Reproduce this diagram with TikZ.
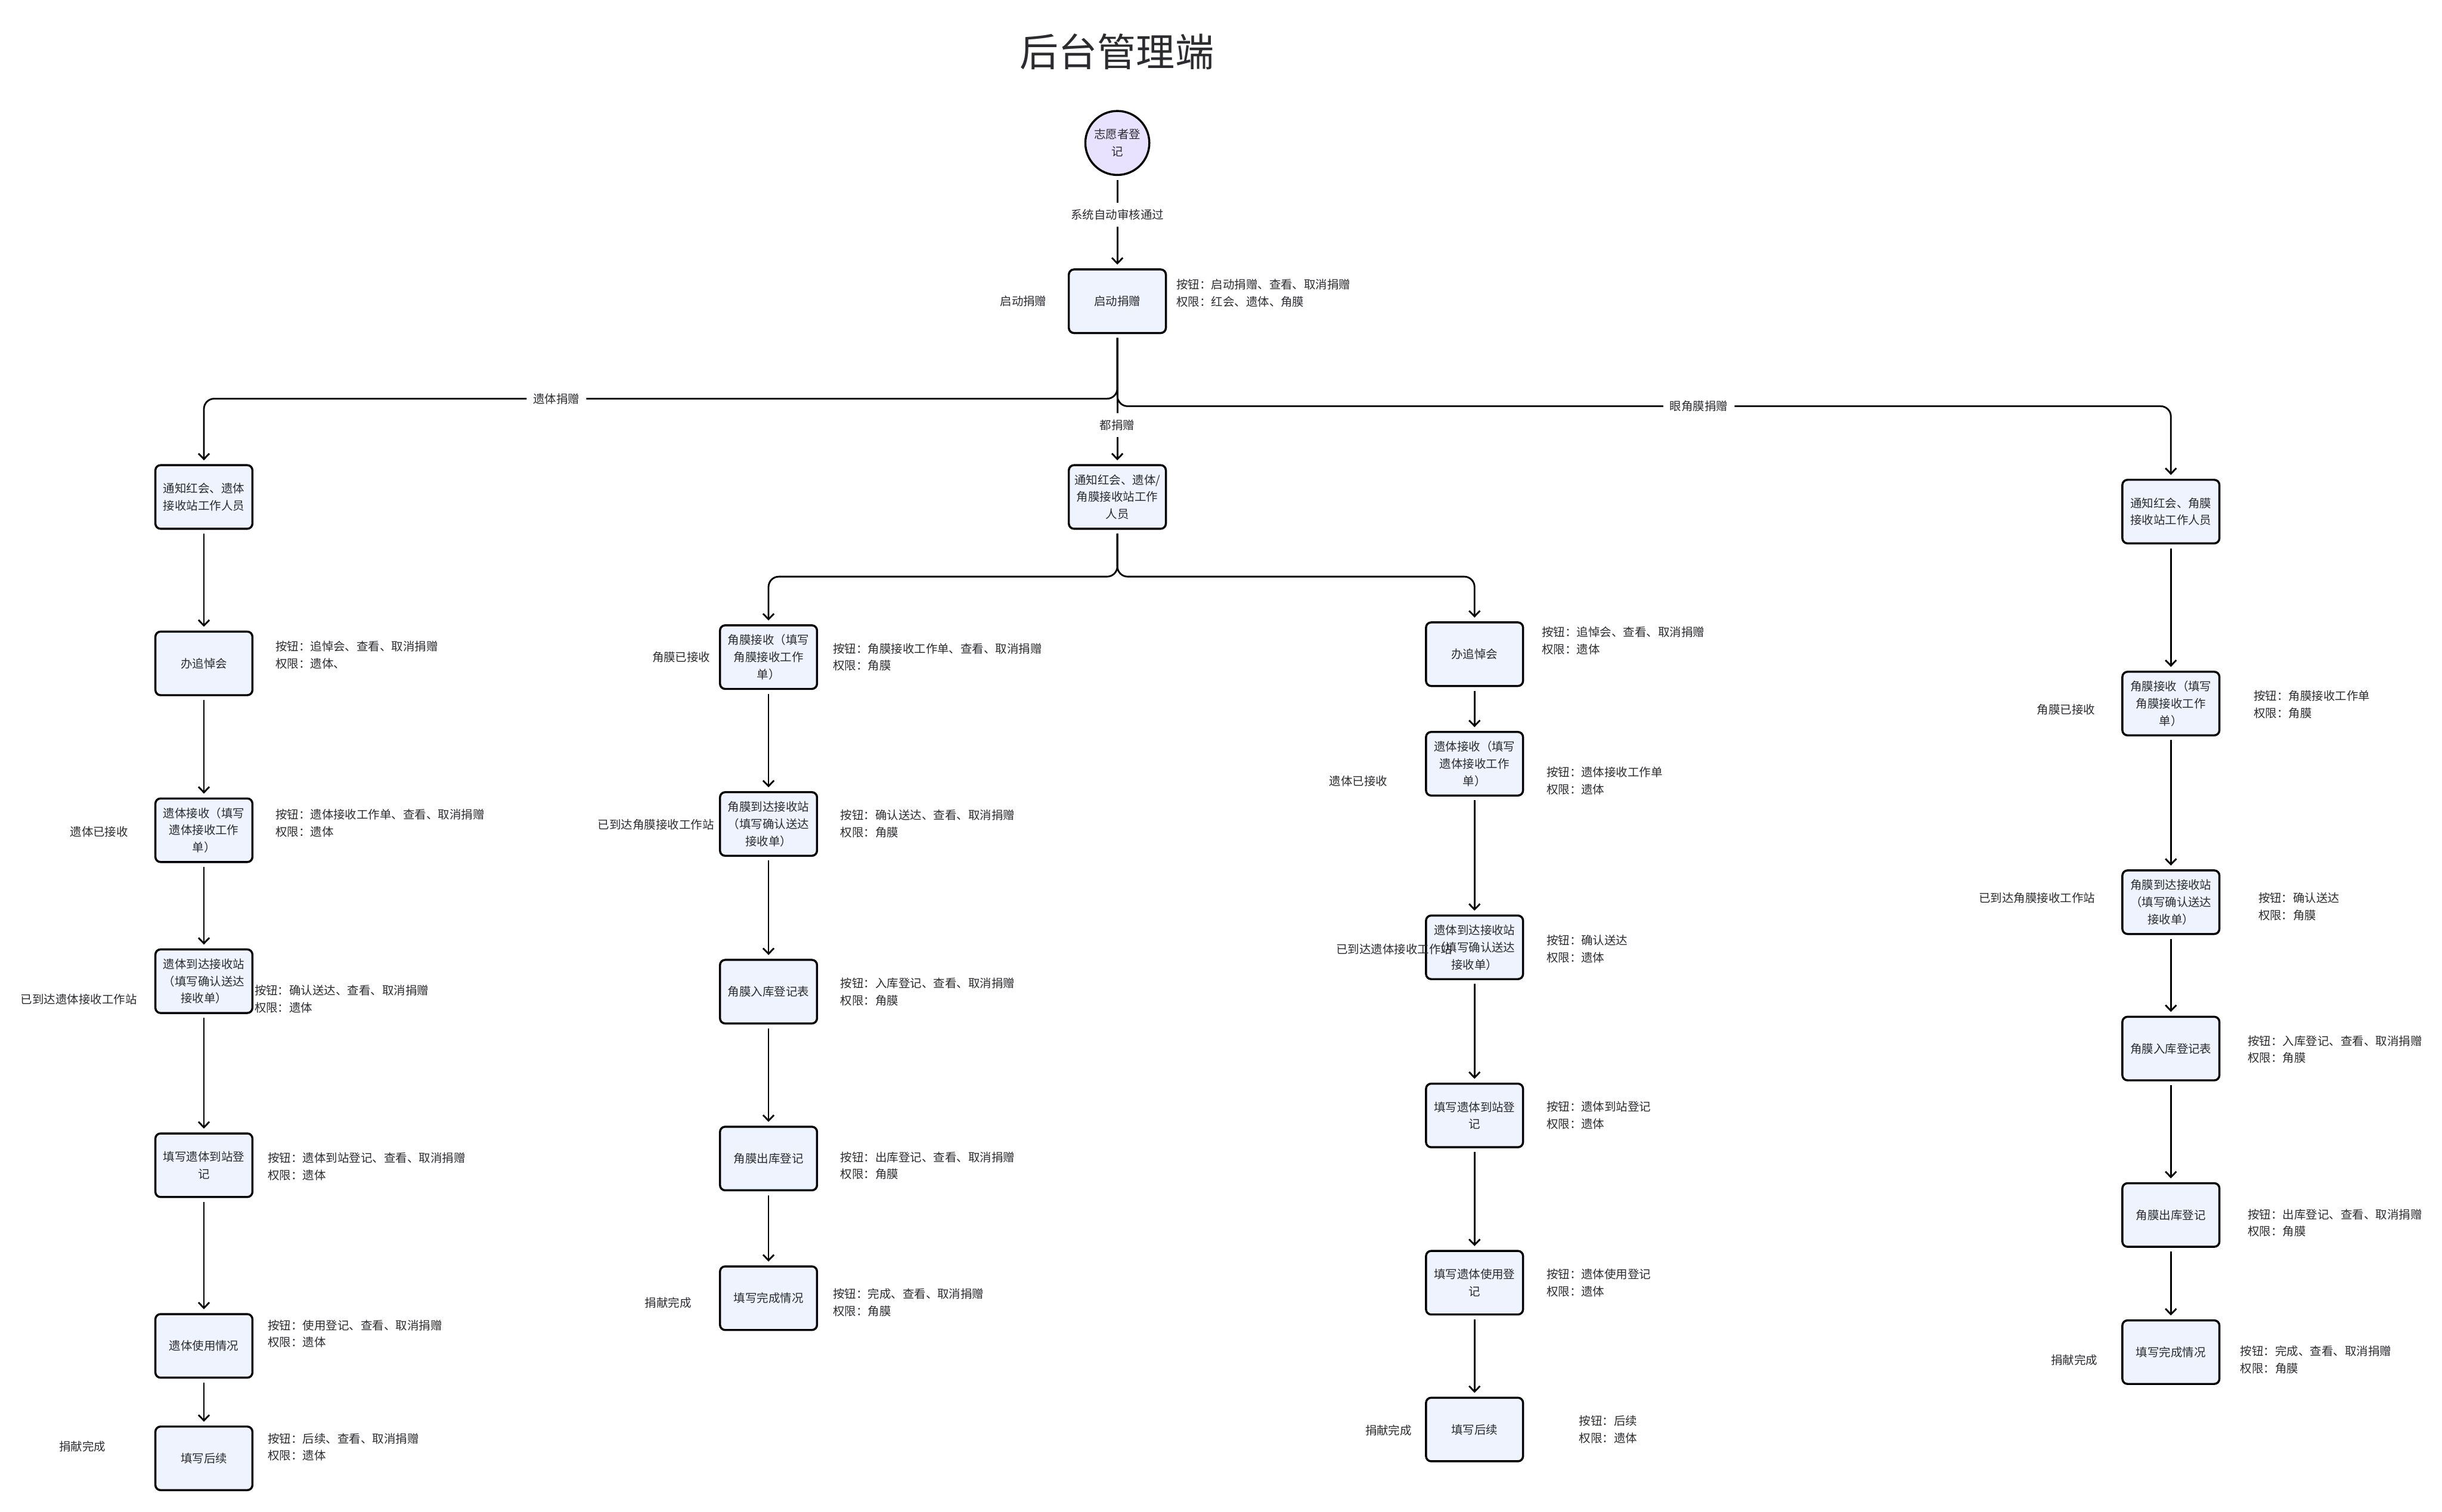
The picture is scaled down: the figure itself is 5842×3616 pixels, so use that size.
\documentclass[tikz,border=0pt]{standalone}
\usepackage{fontspec}
\setmainfont{Noto Sans CJK SC}
\usepackage{xcolor}
\usepackage{tikz}
\usetikzlibrary{positioning,arrows.meta}

\definecolor{boxfill}{HTML}{EEF3FD}
\definecolor{startfill}{HTML}{E8E2FE}
\definecolor{txt}{HTML}{2B2B30}
\newcommand{\nodefont}{\fontsize{7.9pt}{11.7pt}\selectfont}

\begin{document}
\begin{tikzpicture}[
    x=0.01cm, y=-0.01cm,
    font=\nodefont, text=txt,
    step_box/.style={draw=black, line width=1.4pt, rounded corners=3.5pt, fill=boxfill,
        minimum width=2.32cm, minimum height=1.52cm, inner sep=0pt, align=center},
    start_circle/.style={circle, draw=black, line width=1.4pt, fill=startfill,
        minimum size=1.53cm, inner sep=0pt, align=center},
    note/.style={inner sep=0pt, align=left},
    side/.style={inner sep=0pt},
    edge_label/.style={fill=white, inner sep=4.5pt},
    arrow/.style={-{Straight Barb[length=3.8pt, width=7.4pt]}, line width=1.15pt,
        shorten <=2.6pt, shorten >=2.6pt, rounded corners=7pt}
]
\useasboundingbox (0,0) rectangle (5842,3616);

\node (title) at (2672,123) [font=\fontsize{26.4pt}{30pt}\selectfont] {后台管理端};
\node (reg) at (2673,342) [start_circle] {志愿者登\\记};
\node (start) [step_box, below=2.21cm of reg] {启动捐赠};
\node (start_l) [side, left=0.50cm of start] {启动捐赠};
\node (start_n) [note, right=0.22cm of start, yshift=0.19cm] {按钮：启动捐赠、查看、取消捐赠\\权限：红会、遗体、角膜};

\node (mnotify) [step_box, below=3.11cm of start] {通知红会、遗体/\\角膜接收站工作\\人员};
\node (v1) [step_box, left=19.47cm of mnotify] {通知红会、遗体\\接收站工作人员};
\node (c1) [step_box, right=22.82cm of mnotify, yshift=-0.35cm] {通知红会、角膜\\接收站工作人员};

% body donation
\node (v2) [step_box, below=2.41cm of v1] {办追悼会};
\node (v3) [step_box, below=2.42cm of v2] {遗体接收（填写\\遗体接收工作\\单）};
\node (v4) [step_box, below=2.04cm of v3] {遗体到达接收站\\（填写确认送达\\接收单）};
\node (v5) [step_box, below=2.83cm of v4] {填写遗体到站登\\记};
\node (v6) [step_box, below=2.75cm of v5] {遗体使用情况};
\node (v7) [step_box, below=1.12cm of v6] {填写后续};

\node (v3_l) [side, left=0.62cm of v3, yshift=-0.03cm] {遗体已接收};
\node (v4_l) [side, left=0.41cm of v4, yshift=-0.43cm] {已到达遗体接收工作站};
\node (v7_l) [side, left=1.16cm of v7, yshift=0.28cm] {捐献完成};

\node (v2_n) [note, right=0.52cm of v2, yshift=0.20cm] {按钮：追悼会、查看、取消捐赠\\权限：遗体、};
\node (v3_n) [note, right=0.52cm of v3, yshift=0.17cm] {按钮：遗体接收工作单、查看、取消捐赠\\权限：遗体};
\node (v4_n) [note, right=0.02cm of v4, yshift=-0.43cm] {按钮：确认送达、查看、取消捐赠\\权限：遗体};
\node (v5_n) [note, right=0.34cm of v5, yshift=-0.03cm] {按钮：遗体到站登记、查看、取消捐赠\\权限：遗体};
\node (v6_n) [note, right=0.34cm of v6, yshift=0.29cm] {按钮：使用登记、查看、取消捐赠\\权限：遗体};
\node (v7_n) [note, right=0.34cm of v7, yshift=0.27cm] {按钮：后续、查看、取消捐赠\\权限：遗体};

% both: cornea side
\node (k1) [step_box, below=2.26cm of mnotify, xshift=-8.34cm] {角膜接收（填写\\角膜接收工作\\单）};
\node (k2) [step_box, below=2.42cm of k1] {角膜到达接收站\\（填写确认送达\\接收单）};
\node (k3) [step_box, below=2.44cm of k2] {角膜入库登记表};
\node (k4) [step_box, below=2.42cm of k3] {角膜出库登记};
\node (k5) [step_box, below=1.77cm of k4] {填写完成情况};

\node (k1_l) [side, left=0.20cm of k1] {角膜已接收};
\node (k2_l) [side, left=0.11cm of k2, yshift=-0.02cm] {已到达角膜接收工作站};
\node (k5_l) [side, left=0.65cm of k5, yshift=-0.11cm] {捐献完成};

\node (k1_n) [note, right=0.35cm of k1] {按钮：角膜接收工作单、查看、取消捐赠\\权限：角膜};
\node (k2_n) [note, right=0.53cm of k2] {按钮：确认送达、查看、取消捐赠\\权限：角膜};
\node (k3_n) [note, right=0.53cm of k3] {按钮：入库登记、查看、取消捐赠\\权限：角膜};
\node (k4_n) [note, right=0.53cm of k4, yshift=-0.17cm] {按钮：出库登记、查看、取消捐赠\\权限：角膜};
\node (k5_n) [note, right=0.35cm of k5, yshift=-0.10cm] {按钮：完成、查看、取消捐赠\\权限：角膜};

% both: body side
\node (w1) [step_box, below=2.19cm of mnotify, xshift=8.54cm] {办追悼会};
\node (w2) [step_box, below=1.05cm of w1] {遗体接收（填写\\遗体接收工作\\单）};
\node (w3) [step_box, below=2.82cm of w2] {遗体到达接收站\\（填写确认送达\\接收单）};
\node (w4) [step_box, below=2.45cm of w3] {填写遗体到站登\\记};
\node (w5) [step_box, below=2.43cm of w4] {填写遗体使用登\\记};
\node (w6) [step_box, below=1.94cm of w5] {填写后续};

\node (w2_l) [side, left=0.89cm of w2, yshift=-0.42cm] {遗体已接收};
\node (w3_l) [side, left=-0.66cm of w3, yshift=-0.04cm] {已到达遗体接收工作站};
\node (w6_l) [side, left=0.31cm of w6, yshift=-0.02cm] {捐献完成};

\node (w1_n) [note, right=0.42cm of w1, yshift=0.32cm] {按钮：追悼会、查看、取消捐赠\\权限：遗体};
\node (w2_n) [note, right=0.53cm of w2, yshift=-0.41cm] {按钮：遗体接收工作单\\权限：遗体};
\node (w3_n) [note, right=0.53cm of w3, yshift=-0.04cm] {按钮：确认送达\\权限：遗体};
\node (w4_n) [note, right=0.53cm of w4] {按钮：遗体到站登记\\权限：遗体};
\node (w5_n) [note, right=0.53cm of w5] {按钮：遗体使用登记\\权限：遗体};
\node (w6_n) [note, right=1.31cm of w6] {按钮：后续\\权限：遗体};

% cornea donation
\node (c2) [step_box, below=3.02cm of c1] {角膜接收（填写\\角膜接收工作\\单）};
\node (c3) [step_box, below=3.18cm of c2] {角膜到达接收站\\（填写确认送达\\接收单）};
\node (c4) [step_box, below=1.93cm of c3] {角膜入库登记表};
\node (c5) [step_box, below=2.41cm of c4] {角膜出库登记};
\node (c6) [step_box, below=1.71cm of c5] {填写完成情况};

\node (c2_l) [side, left=0.62cm of c2, yshift=-0.14cm] {角膜已接收};
\node (c3_l) [side, left=0.62cm of c3, yshift=0.10cm] {已到达角膜接收工作站};
\node (c6_l) [side, left=0.56cm of c6, yshift=-0.19cm] {捐献完成};

\node (c2_n) [note, right=0.79cm of c2, yshift=-0.02cm] {按钮：角膜接收工作单\\权限：角膜};
\node (c3_n) [note, right=0.90cm of c3, yshift=-0.10cm] {按钮：确认送达\\权限：角膜};
\node (c4_n) [note, right=0.65cm of c4, yshift=-0.02cm] {按钮：入库登记、查看、取消捐赠\\权限：角膜};
\node (c5_n) [note, right=0.65cm of c5, yshift=-0.19cm] {按钮：出库登记、查看、取消捐赠\\权限：角膜};
\node (c6_n) [note, right=0.47cm of c6, yshift=-0.18cm] {按钮：完成、查看、取消捐赠\\权限：角膜};

% connectors
\draw [arrow] (reg) -- node[edge_label, pos=0.42] {系统自动审核通过} (start);
\draw [arrow] (start.south) -- ++(0,-1.545cm) -| node[edge_label, pos=0.307] {遗体捐赠} (v1.north);
\draw [arrow] (start.south) -- node[edge_label, pos=0.70] {都捐赠} (mnotify.north);
\draw [arrow] (start.south) -- ++(0,-1.725cm) -| node[edge_label, pos=0.276] {眼角膜捐赠} (c1.north);
\draw [arrow] (mnotify.south) -- ++(0,-1.12cm) -| (k1.north);
\draw [arrow] (mnotify.south) -- ++(0,-1.12cm) -| (w1.north);

\draw [arrow] (v1) -- (v2);
\draw [arrow] (v2) -- (v3);
\draw [arrow] (v3) -- (v4);
\draw [arrow] (v4) -- (v5);
\draw [arrow] (v5) -- (v6);
\draw [arrow] (v6) -- (v7);

\draw [arrow] (k1) -- (k2);
\draw [arrow] (k2) -- (k3);
\draw [arrow] (k3) -- (k4);
\draw [arrow] (k4) -- (k5);

\draw [arrow] (w1) -- (w2);
\draw [arrow] (w2) -- (w3);
\draw [arrow] (w3) -- (w4);
\draw [arrow] (w4) -- (w5);
\draw [arrow] (w5) -- (w6);

\draw [arrow] (c1) -- (c2);
\draw [arrow] (c2) -- (c3);
\draw [arrow] (c3) -- (c4);
\draw [arrow] (c4) -- (c5);
\draw [arrow] (c5) -- (c6);

\end{tikzpicture}
\end{document}
